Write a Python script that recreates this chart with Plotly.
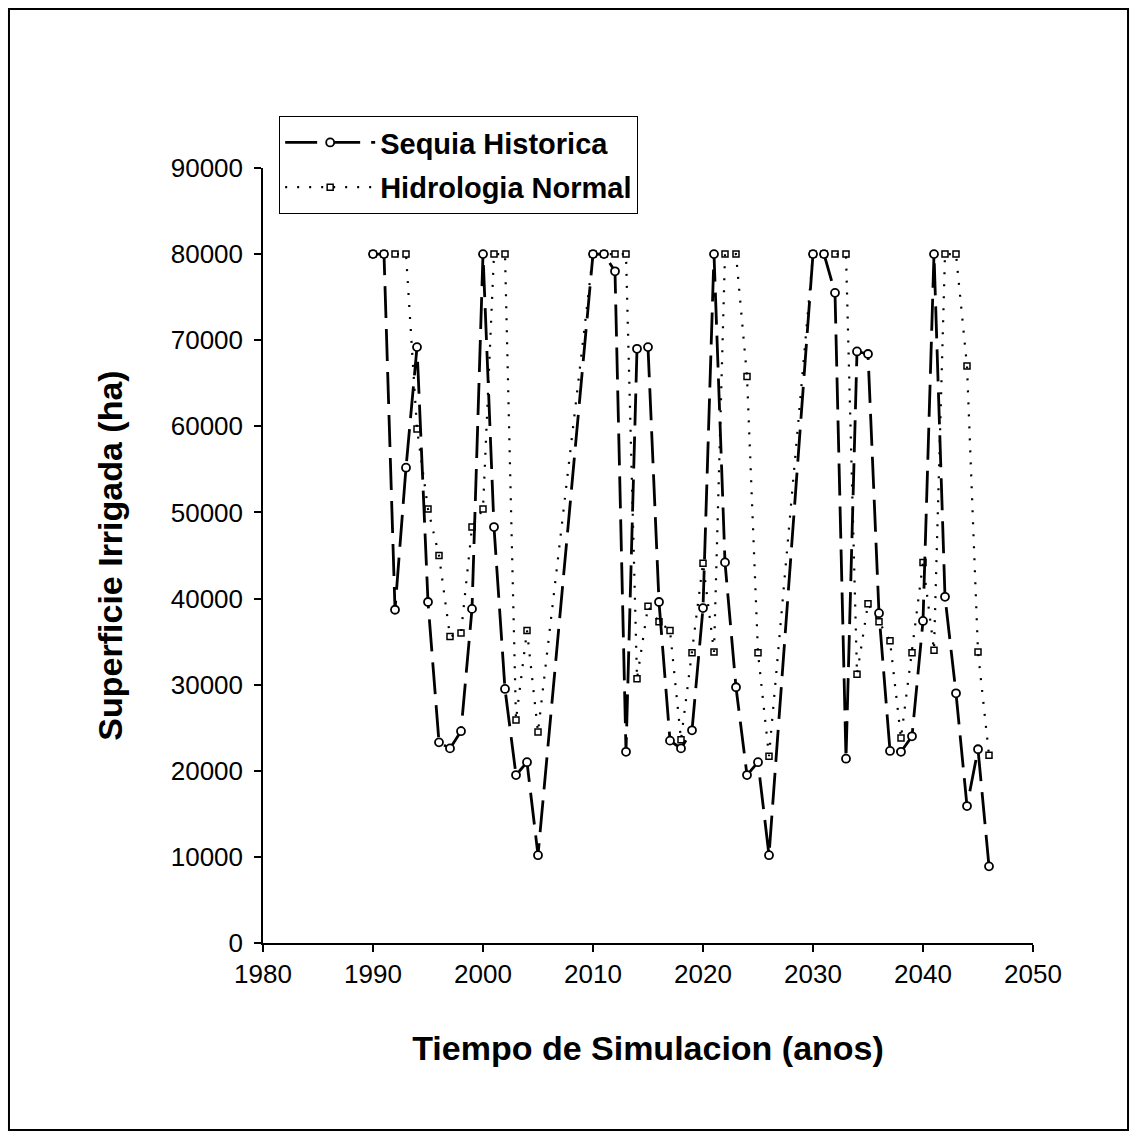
import plotly.graph_objects as go

years_sequia = [1990, 1991, 1992, 1993, 1994, 1995, 1996, 1997, 1998, 1999, 2000, 2001, 2002, 2003, 2004, 2005,
                2010, 2011, 2012, 2013, 2014, 2015, 2016, 2017, 2018, 2019, 2020, 2021, 2022, 2023, 2024, 2025, 2026,
                2030, 2031, 2032, 2033, 2034, 2035, 2036, 2037, 2038, 2039, 2040, 2041, 2042, 2043, 2044, 2045, 2046]
sequia_historica = [80000, 80000, 38700, 55200, 69200, 39600, 23300, 22600, 24600, 38800, 80000, 48300, 29500, 19500, 21000, 10200,
                    80000, 80000, 78000, 22200, 69000, 69200, 39600, 23500, 22600, 24700, 38900, 80000, 44200, 29700, 19500, 21000, 10200,
                    80000, 80000, 75500, 21400, 68700, 68400, 38300, 22300, 22200, 24000, 37400, 80000, 40200, 29000, 15900, 22500, 8900]

years_normal = [1990, 1991, 1992, 1993, 1994, 1995, 1996, 1997, 1998, 1999, 2000, 2001, 2002, 2003, 2004, 2005,
                2010, 2011, 2012, 2013, 2014, 2015, 2016, 2017, 2018, 2019, 2020, 2021, 2022, 2023, 2024, 2025, 2026,
                2030, 2031, 2032, 2033, 2034, 2035, 2036, 2037, 2038, 2039, 2040, 2041, 2042, 2043, 2044, 2045, 2046]
hidrologia_normal = [80000, 80000, 80000, 80000, 59700, 50400, 45000, 35600, 36000, 48300, 50400, 80000, 80000, 25900, 36300, 24500,
                     80000, 80000, 80000, 80000, 30700, 39100, 37300, 36300, 23600, 33700, 44100, 33800, 80000, 80000, 65800, 33700, 21700,
                     80000, 80000, 80000, 80000, 31200, 39400, 37300, 35100, 23800, 33700, 44200, 34000, 80000, 80000, 67000, 33800, 21800]

x_ticks = [1980, 1990, 2000, 2010, 2020, 2030, 2040, 2050]
y_ticks = [0, 10000, 20000, 30000, 40000, 50000, 60000, 70000, 80000, 90000]

FONT = "Liberation Sans, Arial, sans-serif"

fig = go.Figure()
fig.add_trace(go.Scatter(
    x=years_normal, y=hidrologia_normal, name="<b>Hidrologia Normal</b>",
    legendgroup="normal", legendrank=2,
    mode="lines+markers",
    line=dict(color="black", width=2.2, dash="2px,10px"),
    marker=dict(symbol="square-open", size=6, color="black", line=dict(width=1.5)),
))
fig.add_trace(go.Scatter(
    x=years_sequia, y=sequia_historica, name="<b>Sequia Historica</b>",
    legendgroup="sequia", legendrank=1,
    mode="lines+markers",
    line=dict(color="black", width=2.8, dash="32px,11px"),
    marker=dict(symbol="circle", size=8, color="white", line=dict(color="black", width=1.8)),
))

fig.update_layout(
    width=1137, height=1140,
    margin=dict(l=263, r=104, t=168, b=197),
    paper_bgcolor="white", plot_bgcolor="white",
    font=dict(family=FONT, color="black", size=26),
    showlegend=True,
    legend=dict(
        x=0.021, y=1.067, xanchor="left", yanchor="top",
        traceorder="grouped",
        bgcolor="white", bordercolor="black", borderwidth=1,
        font=dict(family=FONT, size=29, color="black"),
        itemwidth=90,
        tracegroupgap=4,
    ),
    xaxis=dict(
        range=[1980, 2050], tickvals=x_ticks, ticktext=[str(v) for v in x_ticks],
        showgrid=False, zeroline=False, showline=True, linecolor="black", linewidth=1.5,
        ticks="outside", ticklen=7, tickwidth=1.5, tickcolor="black",
        title=dict(text="<b>Tiempo de Simulacion (anos)</b>", font=dict(size=34), standoff=48),
    ),
    yaxis=dict(
        range=[0, 90000], tickvals=y_ticks, ticktext=[str(v) for v in y_ticks],
        showgrid=False, zeroline=False, showline=True, linecolor="black", linewidth=1.5,
        ticks="outside", ticklen=7, tickwidth=1.5, tickcolor="black",
        ticklabelstandoff=6,
        title=dict(text="<b>Superficie Irrigada (ha)</b>", font=dict(size=34), standoff=38),
    ),
    shapes=[dict(type="rect", xref="paper", yref="paper",
                 x0=-0.3299, x1=1.1234, y0=-0.2413, y1=1.2052,
                 line=dict(color="black", width=2))],
)

fig.write_html("out.html")
